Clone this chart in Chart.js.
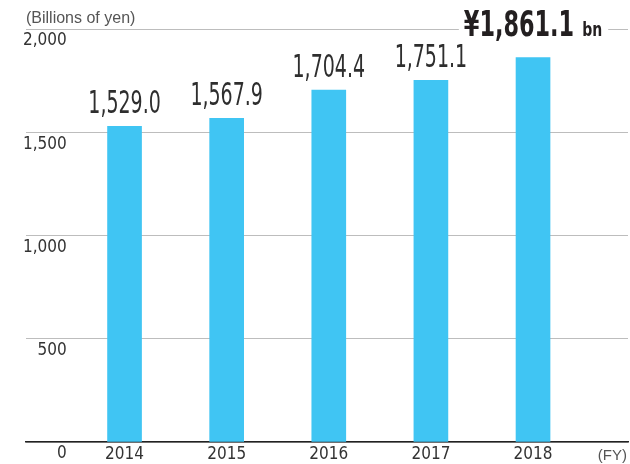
<!DOCTYPE html>
<html>
<head>
<meta charset="utf-8">
<script src="https://cdn.jsdelivr.net/npm/chart.js@4/dist/chart.umd.min.js"></script>
<style>
html,body{margin:0;padding:0;background:#fff;}
canvas{display:block;}
</style>
</head>
<body>
<canvas id="c" width="630" height="464"></canvas>
<script>
const years = [2014, 2015, 2016, 2017, 2018];
const revenue = [1529.0, 1567.9, 1704.4, 1751.1, 1861.1];
const valueLabels = ['1,529.0', '1,567.9', '1,704.4', '1,751.1', '¥1,861.1'];
const yTicks = [0, 500, 1000, 1500, 2000];
const unitLabel = '(Billions of yen)';
const fyLabel = '(FY)';
const bnLabel = 'bn';

const NARROW = '"DejaVu Sans Condensed", "Liberation Sans Narrow", "Liberation Sans", sans-serif';
const REG = '"Liberation Sans", Arial, sans-serif';

const labelPlugin = {
  id: 'labels',
  afterDatasetsDraw(chart) {
    const ctx = chart.ctx;
    const meta = chart.getDatasetMeta(0);
    const ca = chart.chartArea;
    ctx.save();
    meta.data.forEach((bar, i) => {
      const isLast = i === meta.data.length - 1;
      if (!isLast) {
        ctx.save();
        ctx.translate(bar.x, bar.y - 13);
        ctx.scale(0.66, 1);
        ctx.font = '32px ' + NARROW;
        ctx.fillStyle = '#2e2e2e';
        ctx.textAlign = 'center';
        ctx.textBaseline = 'alphabetic';
        ctx.fillText(valueLabels[i], 0, 0);
        ctx.restore();
      } else {
        const sxBig = 0.71;
        const sxBn = 0.78;
        ctx.font = 'bold 35px ' + NARROW;
        const wBig = ctx.measureText(valueLabels[i]).width * sxBig;
        ctx.font = 'bold 20px ' + NARROW;
        const wBn = ctx.measureText(bnLabel).width * sxBn;
        const gap = 8;
        const total = wBig + gap + wBn;
        const left = bar.x - total / 2;
        const baseY = bar.y - 22;
        ctx.fillStyle = '#fff';
        ctx.fillRect(left - 5, baseY - 28, total + 11, 32);
        ctx.fillStyle = '#231f20';
        ctx.textAlign = 'left';
        ctx.textBaseline = 'alphabetic';
        ctx.save();
        ctx.translate(left, baseY);
        ctx.scale(sxBig, 1);
        ctx.font = 'bold 35px ' + NARROW;
        ctx.fillText(valueLabels[i], 0, 0);
        ctx.restore();
        ctx.save();
        ctx.translate(left + wBig + gap, baseY);
        ctx.scale(sxBn, 1);
        ctx.font = 'bold 20px ' + NARROW;
        ctx.fillText(bnLabel, 0, 0);
        ctx.restore();
      }
    });
    ctx.font = '16px ' + REG;
    ctx.fillStyle = '#555';
    ctx.textAlign = 'left';
    ctx.textBaseline = 'alphabetic';
    ctx.fillText(unitLabel, ca.left, ca.top - 6);
    ctx.font = '15px ' + REG;
    ctx.textAlign = 'right';
    ctx.fillText(fyLabel, ca.right - 1, ca.bottom + 18);
    ctx.restore();
  }
};

new Chart(document.getElementById('c'), {
  type: 'bar',
  data: {
    datasets: [{
      data: years.map((y, i) => ({ x: y, y: revenue[i] })),
      backgroundColor: '#40c5f3',
      borderWidth: 0,
      barThickness: 34
    }]
  },
  options: {
    responsive: false,
    animation: false,
    events: [],
    layout: { padding: { top: 29, left: 26, right: 2, bottom: 0 } },
    plugins: { legend: { display: false }, tooltip: { enabled: false }, title: { display: false } },
    scales: {
      x: {
        type: 'linear',
        min: 2013.035,
        max: 2018.93,
        offset: false,
        afterBuildTicks: (s) => { s.ticks = years.map(v => ({ value: v })); },
        afterFit: (s) => { s.height = 22; },
        grid: { display: false, drawTicks: false },
        border: { display: true, color: '#222', width: 1.6 },
        ticks: {
          autoSkip: false,
          maxRotation: 0,
          padding: 2,
          color: '#333',
          font: { family: NARROW, size: 17 },
          callback: (v) => String(v)
        }
      },
      y: {
        min: 0,
        max: 2000,
        afterBuildTicks: (s) => { s.ticks = yTicks.map(v => ({ value: v })); },
        afterFit: (s) => { s.width = 0; },
        grid: { color: '#bdbdbd', lineWidth: 1, drawTicks: false },
        border: { display: false },
        ticks: {
          mirror: true,
          crossAlign: 'far',
          padding: -3,
          labelOffset: 12,
          autoSkip: false,
          color: '#333',
          font: { family: NARROW, size: 17 },
          callback: (v) => v.toLocaleString('en-US')
        }
      }
    }
  },
  plugins: [labelPlugin]
});
</script>
</body>
</html>
